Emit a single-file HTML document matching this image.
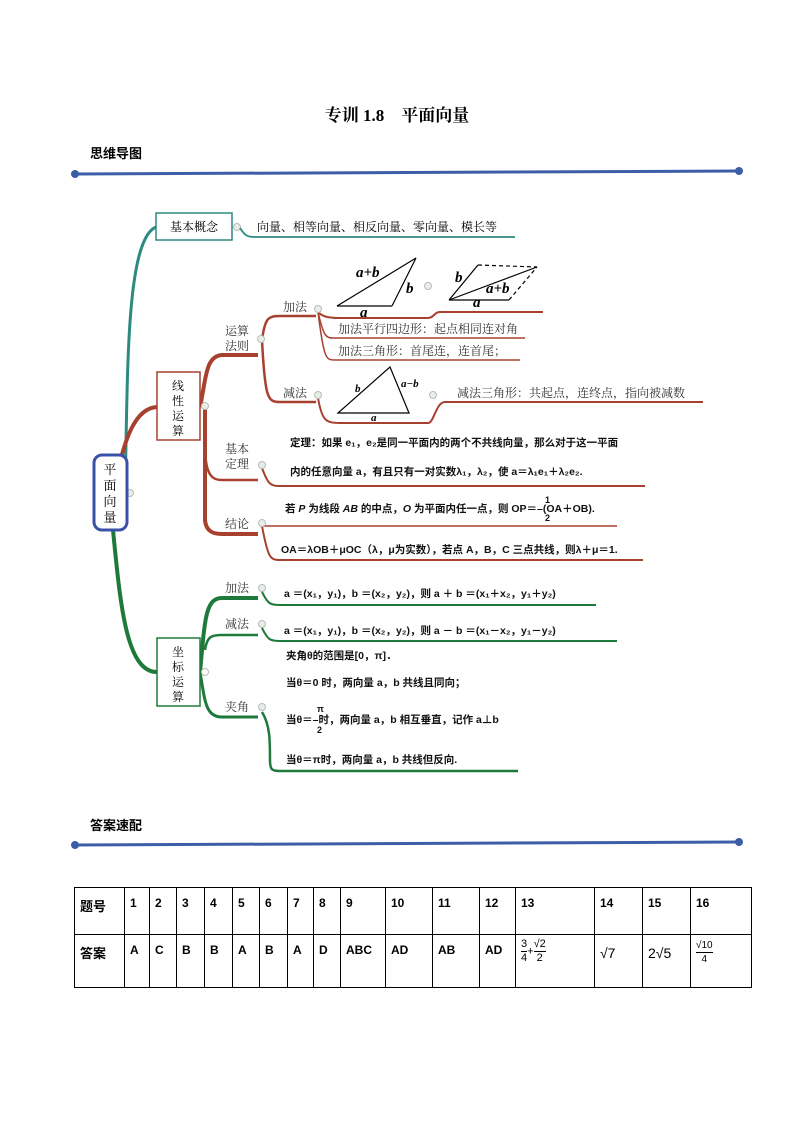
<!DOCTYPE html>
<html><head><meta charset="utf-8"><style>
html,body{margin:0;padding:0;background:#fff;width:794px;height:1123px;overflow:hidden}
svg{position:absolute;left:0;top:0}
.cn{font-family:"Liberation Serif","Noto Serif CJK SC",serif}
.sn{font-family:"Liberation Sans","Noto Sans CJK SC",sans-serif}
.b{font-weight:bold}
.mi{font-family:"Liberation Serif",serif;font-style:italic;font-weight:bold}
table{position:absolute;left:74px;top:887px;border-collapse:collapse;font-family:"Liberation Sans","Noto Sans CJK SC",sans-serif;font-size:12px;font-weight:bold;table-layout:fixed}
td{border:1px solid #000;vertical-align:top;padding:8px 0 0 5px;box-sizing:border-box}
.fr{display:inline-block;vertical-align:middle;text-align:center;line-height:13px;font-weight:normal}
.fr span{display:block}
.fr span:first-child{border-bottom:1px solid #000}
</style></head><body>
<svg width="794" height="1123" viewBox="0 0 794 1123">
<text x="397" y="121" text-anchor="middle" class="cn b" font-size="17">专训 1.8　平面向量</text>
<text x="90" y="158" class="sn b" font-size="13">思维导图</text>
<line x1="75" y1="174" x2="739" y2="171" stroke="#3b5ea6" stroke-width="3"/>
<circle cx="75" cy="174" r="4" fill="#3b5ea6"/><circle cx="739" cy="171" r="4" fill="#3b5ea6"/>
<text x="90" y="830" class="sn b" font-size="13">答案速配</text>
<line x1="75" y1="845" x2="739" y2="842" stroke="#3b5ea6" stroke-width="3"/>
<circle cx="75" cy="845" r="4" fill="#3b5ea6"/><circle cx="739" cy="842" r="4" fill="#3b5ea6"/>

<path d="M125 490 C128 380 125 240 156 227" fill="none" stroke="#2d8a7e" stroke-width="3"/>
<rect x="156" y="213" width="76" height="27" fill="#fff" stroke="#2d8a7e" stroke-width="1.5"/>
<text x="194" y="231" text-anchor="middle" class="cn" font-size="12">基本概念</text>
<circle cx="237" cy="227" r="3.5" fill="#e6efe6" stroke="#bbb"/>
<path d="M240 228 C245 236 248 237 255 237 L515 237" fill="none" stroke="#2d8a7e" stroke-width="1.8"/>
<text x="257" y="231" class="cn" font-size="12">向量、相等向量、相反向量、零向量、模长等</text>

<g stroke="#a8402f" fill="none">
<path d="M118 470 C125 440 135 408 157 407" stroke-width="4"/>
<path d="M200 407 C206 380 205 356 222 355 L258 355" stroke-width="4"/>
<path d="M205 405 L205 520 C206 532 214 534 222 534 L258 534" stroke-width="4"/>
<path d="M205 450 C206 478 214 480 222 480 L258 480" stroke-width="2.5"/>
<path d="M262 340 C265 318 268 316 280 316 L316 316" stroke-width="2.5"/>
<path d="M262 340 C265 400 268 402 280 402 L316 402" stroke-width="2.5"/>
<path d="M318 312 C322 316 326 318 340 318 L428 318 C434 318 434 312 440 312 L543 312" stroke-width="2"/>
<path d="M318 312 C324 338 326 338 335 338 L525 338" stroke-width="1.5"/>
<path d="M318 312 C324 360 326 360 335 360 L520 360" stroke-width="1.5"/>
<path d="M318 398 C322 421 326 423 340 423 L428 423 C434 423 436 402 445 402 L703 402" stroke-width="2"/>
<path d="M262 468 C268 484 270 486 280 486 L645 486" stroke-width="2"/>
<path d="M262 526 L617 526" stroke-width="1.5"/>
<path d="M262 526 C268 558 270 560 280 560 L643 560" stroke-width="2"/>
</g>
<rect x="157" y="372" width="43" height="68" fill="#fff" stroke="#a8402f" stroke-width="1.5"/>
<text class="cn" font-size="12" text-anchor="middle"><tspan x="178" y="390">线</tspan><tspan x="178" y="405">性</tspan><tspan x="178" y="420">运</tspan><tspan x="178" y="435">算</tspan></text>
<g class="cn" font-size="12" fill="#333">
<text x="225" y="335">运算</text><text x="225" y="350">法则</text>
<text x="283" y="311">加法</text><text x="283" y="397">减法</text>
<text x="225" y="453">基本</text><text x="225" y="468">定理</text>
<text x="225" y="528">结论</text>
<text x="338" y="333">加法平行四边形：起点相同连对角</text>
<text x="338" y="355">加法三角形：首尾连，连首尾；</text>
<text x="457" y="397">减法三角形：共起点，连终点，指向被减数</text>
</g>
<g fill="#e6efe6" stroke="#bbb">
<circle cx="205" cy="406" r="3.5"/><circle cx="261" cy="339" r="3.5"/><circle cx="318" cy="309" r="3.5"/><circle cx="318" cy="395" r="3.5"/>
<circle cx="428" cy="286" r="3.5"/><circle cx="433" cy="395" r="3.5"/><circle cx="262" cy="465" r="3.5"/><circle cx="262" cy="523" r="3.5"/>
<circle cx="130" cy="493" r="3.5"/><circle cx="262" cy="588" r="3.5"/><circle cx="262" cy="624" r="3.5"/><circle cx="262" cy="707" r="3.5"/>
</g>
<g stroke="#000" stroke-width="1.2" fill="none">
<line x1="337" y1="306" x2="392" y2="306"/><line x1="392" y1="306" x2="416" y2="258"/><line x1="337" y1="306" x2="416" y2="258"/>
<line x1="449" y1="300" x2="509" y2="300"/><line x1="449" y1="300" x2="478" y2="265"/><line x1="449" y1="300" x2="537" y2="267"/>
<line x1="478" y1="265" x2="537" y2="267" stroke-dasharray="4,3"/><line x1="509" y1="300" x2="537" y2="267" stroke-dasharray="4,3"/>
<polygon points="338,413 409,413 390,367"/>
</g>
<g font-size="15" class="mi">
<text x="356" y="277">a+b</text><text x="406" y="293">b</text><text x="360" y="317">a</text>
<text x="455" y="282">b</text><text x="486" y="293">a+b</text><text x="473" y="307">a</text>
<text x="355" y="392" font-size="11">b</text><text x="401" y="387" font-size="11">a−b</text><text x="371" y="421" font-size="11">a</text>
</g>
<g class="sn b" font-size="10.5" fill="#111">
<text x="290" y="446">定理：如果 e₁，e₂是同一平面内的两个不共线向量，那么对于这一平面</text>
<text x="290" y="475">内的任意向量 a，有且只有一对实数λ₁，λ₂，使 a＝λ₁e₁＋λ₂e₂.</text>
<text x="285" y="512">若 <tspan font-style="italic">P</tspan> 为线段 <tspan font-style="italic">AB</tspan> 的中点，<tspan font-style="italic">O</tspan> 为平面内任一点，则 OP＝–(OA＋OB).</text>
<text x="545" y="503" font-size="9">1</text><text x="545" y="521" font-size="9">2</text>
<text x="281" y="553">OA＝λOB＋μOC（λ，μ为实数），若点 A，B，C 三点共线，则λ＋μ＝1.</text>
<text x="284" y="597">a ＝(x₁，y₁)，b ＝(x₂，y₂)，则 a ＋ b ＝(x₁＋x₂，y₁＋y₂)</text>
<text x="284" y="634">a ＝(x₁，y₁)，b ＝(x₂，y₂)，则 a － b ＝(x₁－x₂，y₁－y₂)</text>
<text x="286" y="659">夹角θ的范围是[0，π]．</text>
<text x="286" y="686">当θ＝0 时，两向量 a，b 共线且同向；</text>
<text x="286" y="723">当θ＝–时，两向量 a，b 相互垂直，记作 a⊥b</text>
<text x="317" y="712" font-size="9">π</text><text x="317" y="733" font-size="9">2</text>
<text x="286" y="763">当θ＝π时，两向量 a，b 共线但反向.</text>
</g>
<g stroke="#1e7a3a" fill="none">
<path d="M112 520 C120 600 125 672 157 672" stroke-width="4"/>
<path d="M200 672 C205 620 205 598 222 598 L258 598" stroke-width="4"/>
<path d="M200 672 C205 700 205 717 222 717 L258 717" stroke-width="3"/>
<path d="M205 650 C207 636 212 635 222 635 L258 635" stroke-width="2.5"/>
<path d="M262 592 C268 604 270 605 280 605 L596 605" stroke-width="2"/>
<path d="M262 628 C268 640 270 641 280 641 L617 641" stroke-width="2"/>
<path d="M262 712 C270 725 270 740 270 760 C270 770 272 771 280 771 L518 771" stroke-width="2.5"/>
</g>
<rect x="157" y="638" width="43" height="68" fill="#fff" stroke="#1e7a3a" stroke-width="1.5"/>
<text class="cn" font-size="12" text-anchor="middle"><tspan x="178" y="656">坐</tspan><tspan x="178" y="671">标</tspan><tspan x="178" y="686">运</tspan><tspan x="178" y="701">算</tspan></text>
<g class="cn" font-size="12" fill="#333">
<text x="225" y="592">加法</text><text x="225" y="628">减法</text><text x="225" y="711">夹角</text>
</g>
<circle cx="205" cy="672" r="3.5" fill="#fff" stroke="#bbb"/>
<rect x="94" y="455" width="33" height="75" rx="8" fill="#fff" stroke="#3b50a8" stroke-width="3"/>
<text class="cn" font-size="13" text-anchor="middle"><tspan x="110" y="474">平</tspan><tspan x="110" y="490">面</tspan><tspan x="110" y="506">向</tspan><tspan x="110" y="522">量</tspan></text>
</svg>
<table style="width:677px;height:101px">
<colgroup><col style="width:50px"><col style="width:25px"><col style="width:27px"><col style="width:28px"><col style="width:28px"><col style="width:27px"><col style="width:28px"><col style="width:26px"><col style="width:27px"><col style="width:45px"><col style="width:47px"><col style="width:47px"><col style="width:36px"><col style="width:79px"><col style="width:48px"><col style="width:48px"><col style="width:61px"></colgroup>
<tr style="height:47px"><td style="font-size:13px">题号</td><td>1</td><td>2</td><td>3</td><td>4</td><td>5</td><td>6</td><td>7</td><td>8</td><td>9</td><td>10</td><td>11</td><td>12</td><td>13</td><td>14</td><td>15</td><td>16</td></tr>
<tr><td style="font-size:13px">答案</td><td>A</td><td>C</td><td>B</td><td>B</td><td>A</td><td>B</td><td>A</td><td>D</td><td>ABC</td><td>AD</td><td>AB</td><td>AD</td><td style="font-weight:normal;font-size:11px;padding-top:3px"><span class="fr"><span>3</span><span>4</span></span>+<span class="fr"><span>√2</span><span>2</span></span></td><td style="font-weight:normal;font-size:14px;padding-top:10px">√7</td><td style="font-weight:normal;font-size:14px;padding-top:10px">2√5</td><td style="font-weight:normal;font-size:10px;padding-top:4px"><span class="fr"><span>√10</span><span>4</span></span></td></tr>
</table>
</body></html>
